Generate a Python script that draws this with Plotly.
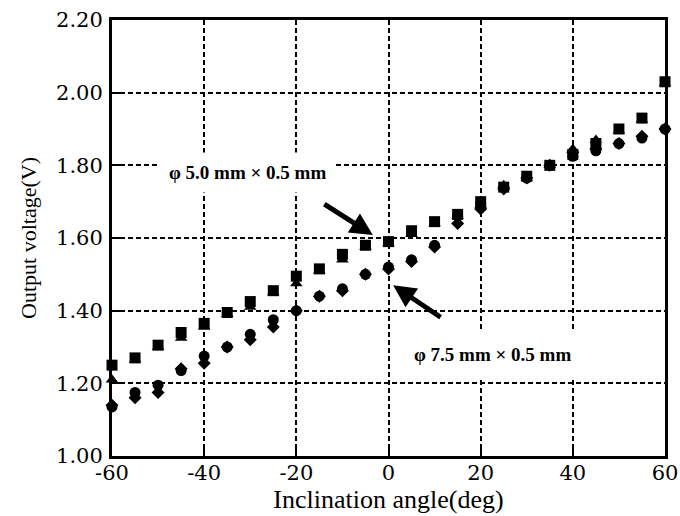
import plotly.graph_objects as go

angles = [-60, -55, -50, -45, -40, -35, -30, -25, -20, -15, -10, -5, 0,
          5, 10, 15, 20, 25, 30, 35, 40, 45, 50, 55, 60]

sq_5mm = [1.25, 1.27, 1.305, 1.34, 1.365, 1.395, 1.425, 1.455, 1.495, 1.515, 1.555, 1.58, 1.59,
          1.62, 1.645, 1.665, 1.70, 1.74, 1.77, 1.80, 1.83, 1.86, 1.90, 1.93, 2.03]
tri_5mm = [1.21, 1.265, 1.30, 1.325, 1.355, 1.39, 1.41, 1.45, 1.475, 1.51, 1.54, 1.575, 1.585,
           1.61, 1.64, 1.66, 1.69, 1.745, 1.765, 1.80, 1.845, 1.87, 1.895, 1.925, 2.025]
cir_75mm = [1.135, 1.175, 1.195, 1.235, 1.275, 1.30, 1.335, 1.375, 1.40, 1.44, 1.46, 1.50, 1.52,
            1.54, 1.58, 1.66, 1.695, 1.74, 1.765, 1.80, 1.825, 1.84, 1.86, 1.875, 1.90]
dia_75mm = [1.14, 1.16, 1.175, 1.24, 1.255, 1.30, 1.32, 1.355, 1.40, 1.44, 1.455, 1.50, 1.515,
            1.535, 1.575, 1.64, 1.68, 1.735, 1.765, 1.80, 1.835, 1.845, 1.86, 1.88, 1.90]

x_ticks = [-60, -40, -20, 0, 20, 40, 60]
x_tick_text = ["-60", "-40", "-20", "0", "20", "40", "60"]
y_ticks = [1.00, 1.20, 1.40, 1.60, 1.80, 2.00, 2.20]
y_tick_text = ["1.00", "1.20", "1.40", "1.60", "1.80", "2.00", "2.20"]

label_5 = "φ 5.0 mm × 0.5 mm"
label_75 = "φ 7.5 mm × 0.5 mm"

serif = "Liberation Serif, Times New Roman, serif"
tick_family = "DejaVu Serif, serif"

fig = go.Figure()

def add(y, symbol, size):
    fig.add_trace(go.Scatter(
        x=angles, y=y, mode="markers",
        marker=dict(symbol=symbol, size=size, color="black", line=dict(width=0)),
        showlegend=False, cliponaxis=False))

add(dia_75mm, "diamond", 10)
add(cir_75mm, "circle", 11)
add(tri_5mm, "triangle-up", 11)
add(sq_5mm, "square", 11)

axis_common = dict(
    showgrid=True, gridcolor="black", gridwidth=2, griddash="5px,3px",
    ticks="inside", ticklen=8, tickwidth=2, tickcolor="black",
    showline=True, linecolor="black", linewidth=3, mirror=True,
    zeroline=False, automargin=False,
)

fig.update_xaxes(range=[-60, 60], tickvals=x_ticks, ticktext=x_tick_text,
                 tickfont=dict(family=tick_family, size=21, color="black"),
                 ticklabelstandoff=-4,
                 title=dict(text="Inclination angle(deg)", standoff=0,
                            font=dict(family=serif, size=26, color="black")),
                 **axis_common)
fig.update_yaxes(range=[1.0, 2.2], tickvals=y_ticks, ticktext=y_tick_text,
                 tickfont=dict(family=tick_family, size=21, color="black"),
                 ticklabelstandoff=2,
                 title=dict(text="Output voltage(V)", standoff=14,
                            font=dict(family=serif, size=22, color="black")),
                 **axis_common)

# Labels with white background
fig.add_annotation(x=-30.7, y=1.781, text="<b>" + label_5 + "</b>", showarrow=False,
                   bgcolor="white", borderpad=9,
                   font=dict(family=serif, size=19, color="black"))
fig.add_annotation(x=22.5, y=1.278, text="<b>" + label_75 + "</b>", showarrow=False,
                   bgcolor="white", borderpad=12,
                   font=dict(family=serif, size=19, color="black"))

# Arrows
fig.add_annotation(x=-3.4, y=1.608, ax=-50, ay=-32, text="", showarrow=True,
                   arrowhead=2, arrowsize=0.9, arrowwidth=5, arrowcolor="black")
fig.add_annotation(x=1.0, y=1.470, ax=49, ay=33, text="", showarrow=True,
                   arrowhead=2, arrowsize=0.9, arrowwidth=5, arrowcolor="black")

fig.update_layout(
    width=680, height=516,
    margin=dict(l=112, r=15, t=20, b=60),
    plot_bgcolor="white", paper_bgcolor="white",
)

fig.write_html("out.html")
